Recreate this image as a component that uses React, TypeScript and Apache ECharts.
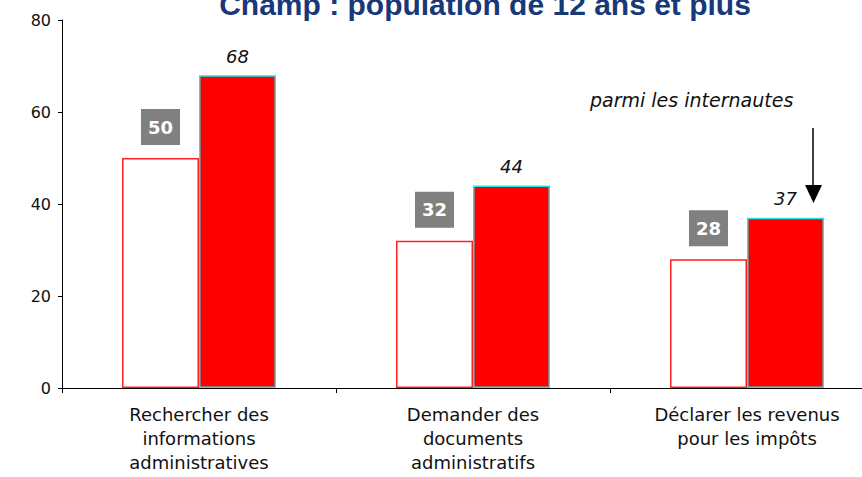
import React, { useEffect, useRef } from "react";
import * as echarts from "echarts";

const categories = [
  "Rechercher des\ninformations\nadministratives",
  "Demander des\ndocuments\nadministratifs",
  "Déclarer les revenus\npour les impôts",
];
const population = [50, 32, 28];
const internautes = [68, 44, 37];
const yTicks = [0, 20, 40, 60, 80];
const titleText = "Champ : population de 12 ans et plus";
const noteText = "parmi les internautes";

const FONT = "'DejaVu Sans', Verdana, sans-serif";

export default function App() {
  const ref = useRef<HTMLDivElement>(null);
  useEffect(() => {
    if (!ref.current) return;
    const chart = echarts.init(ref.current, undefined, { renderer: "svg" });
    chart.setOption({
      animation: false,
      backgroundColor: "#ffffff",
      grid: { left: 62, top: 20, right: 0, height: 368, containLabel: false },
      xAxis: {
        type: "category",
        data: categories,
        axisLine: { lineStyle: { color: "#000", width: 1 } },
        axisTick: { show: true, length: 5, lineStyle: { color: "#000" } },
        axisLabel: {
          color: "#111",
          fontFamily: FONT,
          fontSize: 18,
          lineHeight: 24,
          margin: 14,
          interval: 0,
        },
      },
      yAxis: {
        type: "value",
        min: yTicks[0],
        max: yTicks[yTicks.length - 1],
        interval: 20,
        splitLine: { show: false },
        axisLine: { show: true, lineStyle: { color: "#000", width: 1 } },
        axisTick: { show: true, length: 4, lineStyle: { color: "#000" } },
        axisLabel: { color: "#111", fontFamily: FONT, fontSize: 16, margin: 11 },
      },
      series: [
        {
          type: "bar",
          data: population,
          barWidth: 77,
          barGap: "0%",
          itemStyle: { color: "#ffffff", borderColor: "#ff2020", borderWidth: 1.5 },
          label: {
            show: true,
            position: "top",
            distance: 13,
            color: "#ffffff",
            backgroundColor: "#808080",
            fontFamily: FONT,
            fontWeight: "bold",
            fontSize: 18,
            lineHeight: 20,
            padding: [8, 7, 8, 7],
          },
        },
        {
          type: "bar",
          data: internautes,
          barWidth: 77,
          barGap: "0%",
          itemStyle: { color: "#ff0000", borderColor: "#22e4ee", borderWidth: 1.5 },
          label: {
            show: true,
            position: "top",
            distance: 10,
            color: "#111",
            fontFamily: FONT,
            fontStyle: "italic",
            fontSize: 18,
          },
        },
      ],
      graphic: [
        {
          type: "text",
          x: 485,
          y: 19,
          style: {
            text: titleText,
            fill: "#17397a",
            font: "bold 30px 'Liberation Sans', Arial, sans-serif",
            textAlign: "center",
            textVerticalAlign: "bottom",
          },
        },
        {
          type: "text",
          x: 590,
          y: 100,
          style: {
            text: noteText,
            fill: "#111",
            font: "italic 19px 'DejaVu Sans', Verdana, sans-serif",
            textAlign: "left",
            textVerticalAlign: "middle",
          },
        },
        {
          type: "line",
          shape: { x1: 813, y1: 128, x2: 813, y2: 190 },
          style: { stroke: "#000", lineWidth: 1.5 },
        },
        {
          type: "polygon",
          shape: { points: [[805, 185], [822, 185], [813.5, 203]] },
          style: { fill: "#000" },
        },
      ],
    });
    return () => chart.dispose();
  }, []);
  return (
    <div
      style={{
        position: "absolute",
        left: 0,
        top: 0,
        width: 862,
        height: 477,
        overflow: "hidden",
        background: "#fff",
      }}
    >
      <div ref={ref} style={{ width: 884, height: 477 }} />
    </div>
  );
}
